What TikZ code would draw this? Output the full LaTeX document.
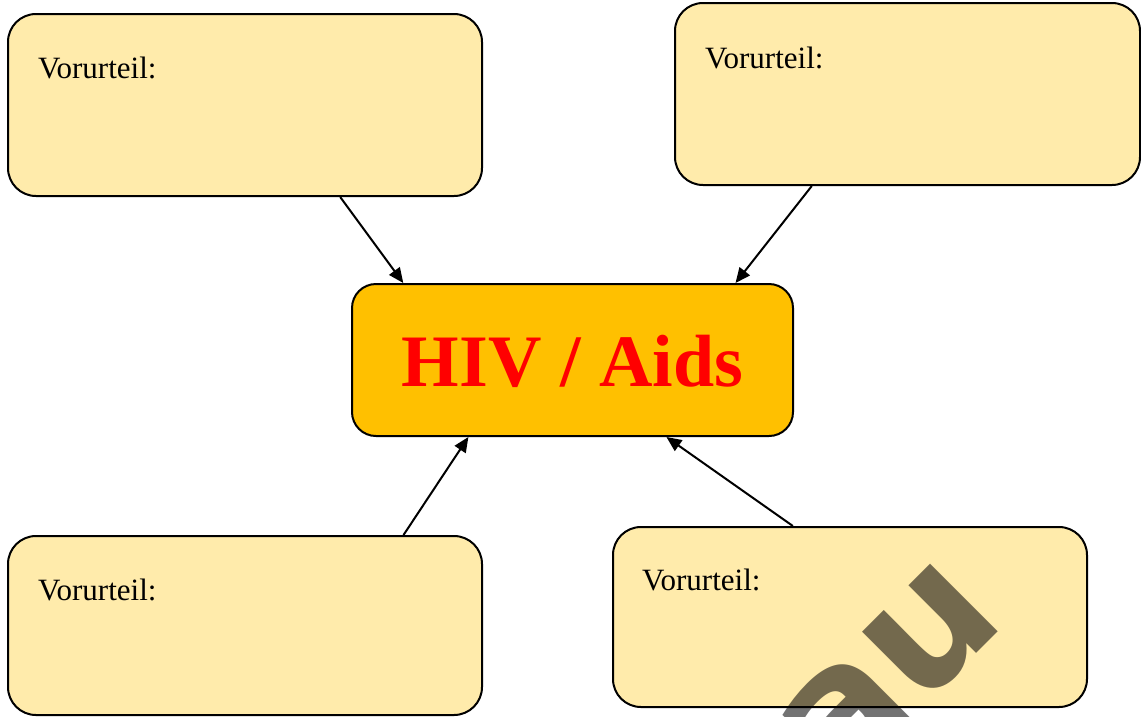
\documentclass[tikz,border=0pt]{standalone}
\usepackage{fontspec}
\setmainfont{Liberation Serif}
\newfontfamily\wmfont{DejaVu Sans}
\usetikzlibrary{arrows.meta,calc}
\definecolor{boxyellow}{HTML}{FFEBAB}
\definecolor{hivorange}{HTML}{FFC000}
\definecolor{hivred}{HTML}{FF0000}
\begin{document}
\begin{tikzpicture}[x=1pt,y=-1pt,
  prejbox/.style={draw=black, line width=2pt, fill=boxyellow, rounded corners=28pt, inner sep=0pt},
  hivbox/.style={draw=black, line width=2pt, fill=hivorange, rounded corners=24pt, inner sep=0pt,
     font=\bfseries\fontsize{74}{80}\selectfont, text=hivred},
  prejlabel/.style={anchor=base west, inner sep=0pt, font=\fontsize{31}{36}\selectfont},
  conn/.style={draw=black, line width=2pt, -{Triangle[length=15pt,width=13pt]}}
]
\useasboundingbox (0,0) rectangle (1141,716);
\fill[white] (0,0) rectangle (1141,716);

% boxes
\node[prejbox, minimum width=474pt, minimum height=182pt] (tl) at (245,105) {};
\node[prejbox, minimum width=465pt, minimum height=182pt] (tr) at (907.5,94) {};
\node[prejbox, minimum width=474pt, minimum height=179pt] (bl) at (245,625.5) {};
\node[prejbox, minimum width=474pt, minimum height=180pt] (br) at (850,617) {};
\node[hivbox, minimum width=441pt, minimum height=152pt, text depth=0pt] (hiv) at (572.5,360) {\raisebox{-2pt}{HIV / Aids}};

% labels
\node[prejlabel] (tltext) at (38,78) {Vorurteil:};
\node[prejlabel] (trtext) at (705,68) {Vorurteil:};
\node[prejlabel] (bltext) at (38,600) {Vorurteil:};
\node[prejlabel] (brtext) at (642,590) {Vorurteil:};

% connectors
\draw[conn] ($(tl.south west)!0.70!(tl.south east)$) -- ($(hiv.north west)!0.118!(hiv.north east)$);
\draw[conn] ($(tr.south west)!0.295!(tr.south east)$) -- ($(hiv.north west)!0.868!(hiv.north east)$);
\draw[conn] ($(bl.north west)!0.833!(bl.north east)$) -- ($(hiv.south west)!0.265!(hiv.south east)$);
\draw[conn] ($(br.north west)!0.38!(br.north east)$) -- ($(hiv.south west)!0.712!(hiv.south east)$);

% watermark
\begin{scope}
\clip (0,0) rectangle (1141,716);
\node[anchor=base east, inner sep=0pt, rotate=45, text=black, text opacity=0.55,
  font=\wmfont\bfseries\fontsize{175}{177}\selectfont] (wm) at (1009,621) {au};
\end{scope}
\end{tikzpicture}
\end{document}
